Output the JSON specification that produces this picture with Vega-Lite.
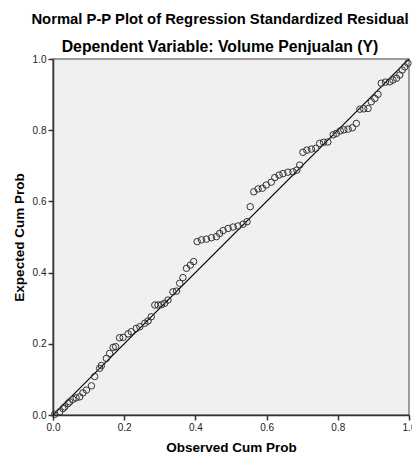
{
  "$schema": "https://vega.github.io/schema/vega-lite/v6.json",
  "autosize": {"type": "none"},
  "padding": {"left": 53, "top": 59, "right": 3, "bottom": 44},
  "width": 356,
  "height": 356,
  "background": "white",
  "config": {
    "view": {"fill": "#F0F0F0", "stroke": "#7f7f7f", "strokeWidth": 1.5},
    "font": "Liberation Sans",
    "axis": {
      "domainColor": "#333333",
      "domainWidth": 1.5,
      "tickColor": "#333333",
      "tickWidth": 1.5,
      "tickSize": 5,
      "labelFont": "Liberation Sans",
      "labelFontSize": 10,
      "labelColor": "#222222",
      "titleFont": "Liberation Sans",
      "titleFontSize": 13.5,
      "titleFontWeight": "bold",
      "titleColor": "#000000",
      "grid": false
    }
  },
  "title": {
    "text": "Normal P-P Plot of Regression Standardized Residual",
    "subtitle": "Dependent Variable: Volume Penjualan (Y)",
    "font": "Liberation Sans",
    "fontSize": 14.8,
    "fontWeight": "bold",
    "color": "#000000",
    "subtitleFont": "Liberation Sans",
    "subtitleFontSize": 15.8,
    "subtitleFontWeight": "bold",
    "subtitleColor": "#000000",
    "subtitlePadding": 13,
    "anchor": "middle",
    "dx": -11,
    "offset": -1
  },
  "datasets": {
    "pts": [
      {"obs": 0.005, "exp": 0.002},
      {"obs": 0.019, "exp": 0.009},
      {"obs": 0.028, "exp": 0.018},
      {"obs": 0.033, "exp": 0.023},
      {"obs": 0.042, "exp": 0.032},
      {"obs": 0.047, "exp": 0.037},
      {"obs": 0.056, "exp": 0.044},
      {"obs": 0.065, "exp": 0.048},
      {"obs": 0.075, "exp": 0.051},
      {"obs": 0.084, "exp": 0.062},
      {"obs": 0.094, "exp": 0.070},
      {"obs": 0.108, "exp": 0.082},
      {"obs": 0.117, "exp": 0.108},
      {"obs": 0.131, "exp": 0.131},
      {"obs": 0.136, "exp": 0.139},
      {"obs": 0.150, "exp": 0.159},
      {"obs": 0.159, "exp": 0.173},
      {"obs": 0.169, "exp": 0.190},
      {"obs": 0.176, "exp": 0.192},
      {"obs": 0.187, "exp": 0.217},
      {"obs": 0.197, "exp": 0.218},
      {"obs": 0.211, "exp": 0.228},
      {"obs": 0.220, "exp": 0.234},
      {"obs": 0.234, "exp": 0.243},
      {"obs": 0.244, "exp": 0.248},
      {"obs": 0.258, "exp": 0.258},
      {"obs": 0.267, "exp": 0.264},
      {"obs": 0.276, "exp": 0.276},
      {"obs": 0.286, "exp": 0.309},
      {"obs": 0.295, "exp": 0.309},
      {"obs": 0.305, "exp": 0.310},
      {"obs": 0.314, "exp": 0.314},
      {"obs": 0.323, "exp": 0.323},
      {"obs": 0.337, "exp": 0.346},
      {"obs": 0.347, "exp": 0.348},
      {"obs": 0.356, "exp": 0.370},
      {"obs": 0.365, "exp": 0.386},
      {"obs": 0.375, "exp": 0.412},
      {"obs": 0.386, "exp": 0.421},
      {"obs": 0.395, "exp": 0.431},
      {"obs": 0.405, "exp": 0.487},
      {"obs": 0.417, "exp": 0.492},
      {"obs": 0.431, "exp": 0.494},
      {"obs": 0.445, "exp": 0.498},
      {"obs": 0.459, "exp": 0.501},
      {"obs": 0.468, "exp": 0.510},
      {"obs": 0.478, "exp": 0.518},
      {"obs": 0.492, "exp": 0.524},
      {"obs": 0.506, "exp": 0.528},
      {"obs": 0.520, "exp": 0.531},
      {"obs": 0.534, "exp": 0.536},
      {"obs": 0.545, "exp": 0.543},
      {"obs": 0.554, "exp": 0.585},
      {"obs": 0.564, "exp": 0.627},
      {"obs": 0.576, "exp": 0.635},
      {"obs": 0.588, "exp": 0.637},
      {"obs": 0.599, "exp": 0.646},
      {"obs": 0.613, "exp": 0.654},
      {"obs": 0.623, "exp": 0.667},
      {"obs": 0.635, "exp": 0.674},
      {"obs": 0.646, "exp": 0.678},
      {"obs": 0.660, "exp": 0.682},
      {"obs": 0.674, "exp": 0.683},
      {"obs": 0.685, "exp": 0.688},
      {"obs": 0.693, "exp": 0.702},
      {"obs": 0.702, "exp": 0.738},
      {"obs": 0.713, "exp": 0.744},
      {"obs": 0.726, "exp": 0.747},
      {"obs": 0.738, "exp": 0.749},
      {"obs": 0.749, "exp": 0.763},
      {"obs": 0.760, "exp": 0.766},
      {"obs": 0.772, "exp": 0.767},
      {"obs": 0.787, "exp": 0.787},
      {"obs": 0.796, "exp": 0.791},
      {"obs": 0.807, "exp": 0.798},
      {"obs": 0.817, "exp": 0.801},
      {"obs": 0.829, "exp": 0.803},
      {"obs": 0.841, "exp": 0.807},
      {"obs": 0.852, "exp": 0.819},
      {"obs": 0.862, "exp": 0.859},
      {"obs": 0.873, "exp": 0.860},
      {"obs": 0.885, "exp": 0.861},
      {"obs": 0.894, "exp": 0.880},
      {"obs": 0.904, "exp": 0.889},
      {"obs": 0.913, "exp": 0.901},
      {"obs": 0.922, "exp": 0.932},
      {"obs": 0.934, "exp": 0.935},
      {"obs": 0.946, "exp": 0.936},
      {"obs": 0.955, "exp": 0.941},
      {"obs": 0.965, "exp": 0.946},
      {"obs": 0.974, "exp": 0.955},
      {"obs": 0.981, "exp": 0.969},
      {"obs": 0.988, "exp": 0.978},
      {"obs": 0.997, "exp": 0.988}
    ],
    "ref": [
      {"obs": 0, "exp": 0},
      {"obs": 1, "exp": 1}
    ]
  },
  "layer": [
    {
      "data": {"name": "ref"},
      "mark": {"type": "line", "color": "#000000", "strokeWidth": 1.2, "clip": true},
      "encoding": {
        "x": {"field": "obs", "type": "quantitative"},
        "y": {"field": "exp", "type": "quantitative"}
      }
    },
    {
      "data": {"name": "pts"},
      "mark": {"type": "point", "shape": "circle", "filled": false, "stroke": "#333333", "strokeWidth": 1, "size": 42, "opacity": 1},
      "encoding": {
        "x": {
          "field": "obs", "type": "quantitative",
          "scale": {"domain": [0, 1], "nice": false, "zero": true},
          "axis": {"title": "Observed Cum Prob", "values": [0, 0.2, 0.4, 0.6, 0.8, 1.0], "format": ".1f", "labelPadding": 2, "titlePadding": 8, "labelFlush": false}
        },
        "y": {
          "field": "exp", "type": "quantitative",
          "scale": {"domain": [0, 1], "nice": false, "zero": true},
          "axis": {"title": "Expected Cum Prob", "values": [0, 0.2, 0.4, 0.6, 0.8, 1.0], "format": ".1f", "labelPadding": 2, "titlePadding": 6, "labelFlush": false}
        }
      }
    }
  ]
}
